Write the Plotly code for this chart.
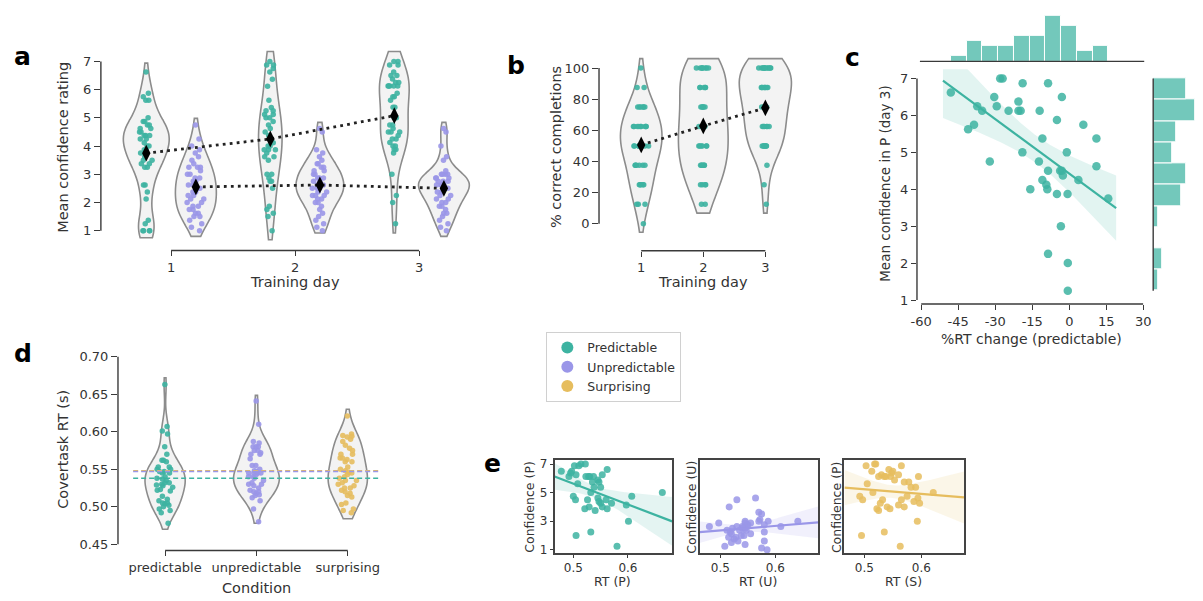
import numpy as np
import plotly.graph_objects as go

W, H = 1203, 601
FONT = 'DejaVu Sans'
TXT = '#333333'
LINE = '#3a3a3a'
TEAL = '#3db3a1'
PURPLE = '#9a96e8'
GOLD = '#e6bd5e'
VIOLIN_FILL = '#f3f3f3'
VIOLIN_LINE = '#8c8c8c'

# ---------------- data ----------------
training_days = [1, 2, 3]
conditions = ['predictable', 'unpredictable', 'surprising']
legend_labels = ['Predictable', 'Unpredictable', 'Surprising']

# panel a : mean confidence rating per participant
conf_day1_P = [6.62, 5.87, 5.75, 5.62, 5.62, 4.87, 4.75, 4.62, 4.5, 4.37, 4.25, 4.12, 4.0, 3.87,
               3.87, 3.75, 3.62, 3.5, 3.37, 3.37, 4.37, 3.25, 4.37, 4.25, 4.5, 4.62, 5.0, 2.62,
               2.62, 2.37, 2.12, 1.37, 1.25, 1.0, 1.0, 1.0, 1.0, 4.87, 4.75, 4.0, 3.5, 3.25]
conf_day1_U = [4.75, 4.25, 4.0, 3.87, 3.75, 3.5, 3.37, 3.25, 3.25, 3.12, 3.0, 3.0, 2.87, 2.75,
               2.75, 2.62, 2.62, 2.5, 2.5, 2.37, 2.37, 2.25, 2.25, 2.12, 2.0, 2.0, 1.87, 1.87,
               1.75, 1.62, 1.62, 1.5, 1.5, 1.37, 1.25, 1.12, 1.0, 3.25, 2.87, 3.62, 2.12, 1.75]
conf_day2_P = [7.0, 6.87, 6.87, 6.75, 6.62, 6.37, 6.12, 5.62, 5.37, 5.25, 5.25, 5.12, 5.0, 5.0,
               4.87, 4.75, 4.62, 4.5, 4.37, 4.25, 4.0, 4.0, 3.87, 3.75, 3.62, 3.62, 3.5, 3.0,
               3.0, 2.87, 2.75, 2.75, 2.5, 3.87, 1.87, 1.75, 1.62, 1.5, 1.0, 3.87, 4.12, 5.12]
conf_day2_U = [4.62, 4.5, 3.87, 3.75, 3.62, 3.5, 3.37, 3.37, 3.25, 3.25, 3.12, 3.0, 3.0, 2.87,
               2.87, 2.75, 2.75, 2.62, 2.62, 2.62, 2.5, 2.5, 2.37, 2.37, 2.25, 2.25, 2.12, 2.12,
               2.0, 2.0, 1.75, 1.62, 1.5, 1.37, 1.25, 1.0, 2.87, 2.5, 3.12, 2.25, 1.12, 1.87]
conf_day3_P = [6.625, 7.0, 7.0, 6.5, 6.25, 6.25, 6.125, 5.625, 5.75, 4.75, 6.375, 6.125, 6.125, 6.125,
               6.875, 5.0, 6.125, 5.375, 6.875, 5.875, 6.5, 4.75, 4.25, 4.125, 4.0, 4.5, 4.0, 3.875,
               4.5, 4.5, 4.375, 5.0, 3.875, 5.75, 4.25, 5.375, 4.625, 3.75, 3.0, 2.25, 2.0, 1.25]
conf_day3_U = [4.62, 4.5, 4.0, 3.62, 3.5, 3.12, 3.0, 3.0, 3.0, 2.87, 2.87, 2.75, 2.75, 2.75,
               2.62, 2.62, 2.5, 2.5, 2.5, 2.37, 2.37, 2.25, 2.25, 2.12, 2.12, 2.0, 2.0, 1.87,
               1.75, 1.62, 1.62, 1.5, 1.37, 1.25, 1.12, 1.0, 2.62, 2.62, 2.87, 2.37, 3.0, 1.87]

# panel b : % correct completions
completion_day1 = [100, 87.5, 87.5, 75, 75, 75, 75, 75, 75, 62.5, 62.5, 62.5, 62.5, 62.5, 62.5,
                   62.5, 62.5, 62.5, 50, 50, 50, 50, 50, 50, 50, 50, 50, 37.5, 37.5, 37.5, 37.5,
                   37.5, 37.5, 25, 25, 25, 25, 25, 12.5, 12.5, 12.5, 0]
completion_day2 = [100, 100, 100, 100, 100, 100, 100, 100, 87.5, 87.5, 87.5, 87.5, 87.5, 75, 75,
                   75, 75, 75, 62.5, 62.5, 62.5, 62.5, 62.5, 62.5, 50, 50, 50, 50, 50, 50, 37.5,
                   37.5, 37.5, 37.5, 37.5, 37.5, 25, 25, 25, 25, 12.5, 12.5]
completion_day3 = [100, 100, 100, 100, 100, 100, 100, 100, 100, 100, 100, 87.5, 87.5, 87.5, 87.5,
                   87.5, 87.5, 87.5, 87.5, 75, 75, 75, 75, 75, 75, 75, 62.5, 62.5, 62.5, 62.5,
                   62.5, 62.5, 50, 50, 50, 50, 50, 50, 50, 37.5, 25, 12.5]

# panel c : %RT change (predictable), paired with conf_day3_P
rt_change_P = [-48, -28, -27, -30.4, -29.4, -37.3, -35.3, -41, -38.6, -32.2, -20.6, -24.6, -20.6,
               -19.7, -18.9, -19, -12, -10.9, -8.6, -5, -3, -12.3, -10.9, -9.3, -8.9, -8.6, -15.8,
               -5, -3.7, -3, -2.6, -1, -0.7, 5.7, 3.7, 11, 11, 15.8, -3.4, -8.6, -0.6, -0.6]

# panel d / e : covertask RT (s)
rt_P = [0.562, 0.514, 0.522, 0.478, 0.505, 0.553, 0.492, 0.508, 0.547, 0.500,
        0.495, 0.523, 0.530, 0.537, 0.502, 0.532, 0.528, 0.550, 0.510, 0.545,
        0.497, 0.607, 0.550, 0.597, 0.529, 0.560, 0.553, 0.562, 0.504, 0.526,
        0.547, 0.663, 0.521, 0.535, 0.570, 0.538, 0.545, 0.540, 0.601, 0.532,
        0.505, 0.580]
rt_U = [0.564, 0.530, 0.516, 0.570, 0.575, 0.572, 0.587, 0.570, 0.641, 0.545,
        0.555, 0.548, 0.550, 0.580, 0.480, 0.540, 0.522, 0.545, 0.540, 0.535,
        0.547, 0.518, 0.580, 0.520, 0.555, 0.543, 0.538, 0.528, 0.525, 0.580,
        0.532, 0.520, 0.545, 0.508, 0.575, 0.585, 0.610, 0.530, 0.497, 0.512,
        0.545, 0.515]
rt_S = [0.543, 0.518, 0.520, 0.513, 0.530, 0.560, 0.535, 0.505, 0.578, 0.492,
        0.548, 0.538, 0.546, 0.595, 0.565, 0.515, 0.525, 0.590, 0.503, 0.553,
        0.550, 0.575, 0.597, 0.560, 0.570, 0.532, 0.540, 0.545, 0.497, 0.565,
        0.587, 0.621, 0.522, 0.570, 0.528, 0.582, 0.594, 0.525, 0.593, 0.535,
        0.495, 0.563]

# tick values
a_yticks = [1, 2, 3, 4, 5, 6, 7]
b_yticks = [0, 20, 40, 60, 80, 100]
c_xticks = [-60, -45, -30, -15, 0, 15, 30]
c_yticks = [1, 2, 3, 4, 5, 6, 7]
d_yticks = [0.45, 0.50, 0.55, 0.60, 0.65, 0.70]
e_xticks = [0.5, 0.6]
e_yticks = [1, 3, 5, 7]

# ---------------- helpers ----------------
def xdom(p0, p1):
    return [p0 / W, min(p1 / W, 1.0)]

def ydom(top, bottom):
    return [1 - bottom / H, 1 - top / H]

def rgba(hexc, a):
    h = hexc.lstrip('#')
    return 'rgba(%d,%d,%d,%.3f)' % (int(h[0:2], 16), int(h[2:4], 16), int(h[4:6], 16), a)

fig = go.Figure()

def add_violin(values, pos, color, width, span, jitter, xa, ya, msize=5.5):
    fig.add_trace(go.Violin(
        x0=pos, y=values, xaxis=xa, yaxis=ya, width=width,
        spanmode='manual', span=list(span), scalemode='width',
        points='all', pointpos=0, jitter=jitter,
        fillcolor=VIOLIN_FILL, line=dict(color=VIOLIN_LINE, width=1.6),
        marker=dict(color=color, size=msize, opacity=0.9, line=dict(width=0)),
        box_visible=False, meanline_visible=False, showlegend=False, hoverinfo='skip'))

def regression(x, y, xlo, xhi, n=120):
    x = np.asarray(x, float); y = np.asarray(y, float)
    b, a = np.polyfit(x, y, 1)
    xs = np.linspace(xlo, xhi, n)
    yh = a + b * xs
    resid = y - (a + b * x)
    s = np.sqrt(np.sum(resid ** 2) / (len(x) - 2))
    sxx = np.sum((x - x.mean()) ** 2)
    se = s * np.sqrt(1.0 / len(x) + (xs - x.mean()) ** 2 / sxx)
    t = 2.021
    return xs, yh, yh - t * se, yh + t * se

def add_regplot(x, y, color, xa, ya, xlo, xhi, msize, band_alpha=0.15):
    xs, yh, lo, hi = regression(x, y, xlo, xhi)
    fig.add_trace(go.Scatter(x=np.concatenate([xs, xs[::-1]]), y=np.concatenate([hi, lo[::-1]]),
                             fill='toself', fillcolor=rgba(color, band_alpha), line=dict(width=0),
                             mode='lines', xaxis=xa, yaxis=ya, showlegend=False, hoverinfo='skip'))
    fig.add_trace(go.Scatter(x=x, y=y, mode='markers', xaxis=xa, yaxis=ya,
                             marker=dict(color=color, size=msize, opacity=0.85, line=dict(width=0)),
                             showlegend=False, hoverinfo='skip'))
    fig.add_trace(go.Scatter(x=xs, y=yh, mode='lines', line=dict(color=color, width=2.2),
                             xaxis=xa, yaxis=ya, showlegend=False, hoverinfo='skip'))

# ---------------- panel a ----------------
day_offset = 0.2
a_sets = [(conf_day1_P, conf_day1_U), (conf_day2_P, conf_day2_U), (conf_day3_P, conf_day3_U)]
a_widths = [0.37, 0.33, 0.19, 0.385, 0.24, 0.41]
a_spans = [(0.75, 6.94), (0.8, 4.98), (0.68, 7.35), (0.92, 4.84), (0.92, 7.35), (0.8, 4.84)]
a_jitter = [0.35, 0.44, 0.6, 0.37, 0.5, 0.35]
k = 0
for d, (pv, uv) in zip(training_days, a_sets):
    add_violin(pv, d - day_offset, TEAL, a_widths[k], a_spans[k], a_jitter[k], 'x', 'y'); k += 1
    add_violin(uv, d + day_offset, PURPLE, a_widths[k], a_spans[k], a_jitter[k], 'x', 'y'); k += 1

DOT = '2.8px,4.2px'
for sign, sets in [(-1, [s[0] for s in a_sets]), (1, [s[1] for s in a_sets])]:
    fig.add_trace(go.Scatter(
        x=[d + sign * day_offset for d in training_days], y=[np.mean(v) for v in sets],
        mode='lines+markers', line=dict(color='#222222', width=2.8, dash=DOT),
        marker=dict(symbol='diamond-tall', size=12, color='black'),
        xaxis='x', yaxis='y', showlegend=False, hoverinfo='skip'))

# ---------------- panel b ----------------
b_sets = [completion_day1, completion_day2, completion_day3]
b_widths = [0.67, 0.8, 0.84]
b_spans = [(-5.5, 106), (6.8, 106), (6.8, 106)]
b_jitter = [0.4, 0.33, 0.3]
for i, d in enumerate(training_days):
    add_violin(b_sets[i], d, TEAL, b_widths[i], b_spans[i], b_jitter[i], 'x2', 'y2')
fig.add_trace(go.Scatter(
    x=training_days, y=[np.mean(v) for v in b_sets],
    mode='lines+markers', line=dict(color='#222222', width=2.8, dash=DOT),
    marker=dict(symbol='diamond-tall', size=12, color='black'),
    xaxis='x2', yaxis='y2', showlegend=False, hoverinfo='skip'))

# ---------------- panel c ----------------
cx = np.asarray(rt_change_P); cy = np.asarray(conf_day3_P)
cpad = 0.05 * (cx.max() - cx.min())
add_regplot(rt_change_P, conf_day3_P, TEAL, 'x3', 'y3', cx.min() - cpad, cx.max() + cpad, 8.5)

top_size = (cx.max() - cx.min()) / 10 * 1.0001
fig.add_trace(go.Histogram(x=rt_change_P, xaxis='x4', yaxis='y4',
                           xbins=dict(start=cx.min(), end=cx.max(), size=top_size),
                           marker=dict(color=rgba(TEAL, 0.72), line=dict(color='white', width=1)),
                           showlegend=False, hoverinfo='skip'))
right_size = (cy.max() - cy.min()) / 10 * 1.0001
fig.add_trace(go.Histogram(y=conf_day3_P, orientation='h', xaxis='x5', yaxis='y5',
                           ybins=dict(start=cy.min(), end=cy.max(), size=right_size),
                           marker=dict(color=rgba(TEAL, 0.72), line=dict(color='white', width=1)),
                           showlegend=False, hoverinfo='skip'))

# ---------------- panel d ----------------
d_sets = [rt_P, rt_U, rt_S]
d_colors = [TEAL, PURPLE, GOLD]
d_widths = [0.44, 0.5, 0.43]
d_spans = [(0.470, 0.672), (0.478, 0.6485), (0.484, 0.630)]
d_jitter = [0.5, 0.45, 0.5]
for i in range(3):
    add_violin(d_sets[i], i, d_colors[i], d_widths[i], d_spans[i], d_jitter[i], 'x6', 'y6')
mean_line_x = [-0.35, 2.35]
for i in [2, 0, 1]:
    m = float(np.mean(d_sets[i]))
    fig.add_trace(go.Scatter(x=mean_line_x, y=[m, m], mode='lines',
                             line=dict(color=d_colors[i], width=1.5, dash='5px,3px'),
                             xaxis='x6', yaxis='y6', showlegend=False, hoverinfo='skip'))

# ---------------- panel e ----------------
e_ranges = [[0.4656, 0.681], [0.462, 0.678], [0.465, 0.675]]
e_pairs = [(rt_P, conf_day3_P, TEAL), (rt_U, conf_day3_U, PURPLE), (rt_S, conf_day3_P, GOLD)]
for j, (xv, yv, col) in enumerate(e_pairs):
    xa = 'x%d' % (7 + j); ya = 'y%d' % (7 + j)
    add_regplot(xv, yv, col, xa, ya, e_ranges[j][0], e_ranges[j][1], 7, band_alpha=0.14)

# legend entries
for lab, col in zip(legend_labels, d_colors):
    fig.add_trace(go.Scatter(x=[None], y=[None], mode='markers', name=lab,
                             marker=dict(color=col, size=9), xaxis='x', yaxis='y'))

# ---------------- axes ----------------
def base_axis(**kw):
    d = dict(showgrid=False, zeroline=False, showline=False, ticks='outside', ticklen=6,
             tickwidth=1.3, tickcolor=LINE, type='linear', fixedrange=True,
             tickfont=dict(family=FONT, size=13, color=TXT))
    d.update(kw)
    return d

e_dom_y = ydom(462.3, 556.7)
e_frame = dict(showline=True, mirror=True, linecolor='#444444', linewidth=1.5)
efont = dict(family=FONT, size=12, color=TXT)

layout_axes = dict(
    xaxis=base_axis(domain=xdom(96, 490), range=[0.434, 3.574], anchor='y', tickvals=training_days,
                    ticklen=5),
    yaxis=base_axis(domain=ydom(45, 251), range=[0.298, 7.526], anchor='x', tickvals=a_yticks),
    xaxis2=base_axis(domain=xdom(600, 800), range=[0.32, 3.505], anchor='y2', tickvals=training_days,
                     ticklen=5),
    yaxis2=base_axis(domain=ydom(50, 251.3), range=[-17.36, 110.6], anchor='x2', tickvals=b_yticks),
    xaxis3=base_axis(domain=xdom(921.7, 1150.7), range=[-61.72, 30.0], anchor='y3',
                     tickvals=c_xticks, ticktext=[str(v) for v in c_xticks], ticklen=5),
    yaxis3=base_axis(domain=ydom(68, 305), range=[0.893, 7.25], anchor='x3', tickvals=c_yticks,
                     ticklen=5),
    xaxis4=base_axis(domain=xdom(921.7, 1150.7), range=[-61.72, 30.0], anchor='y4',
                     ticks='', showticklabels=False),
    yaxis4=base_axis(domain=ydom(14, 60), range=[0, 9], anchor='x4', visible=False),
    xaxis5=base_axis(domain=xdom(1160.7, 1203), range=[0, 8.9], anchor='y5', visible=False),
    yaxis5=base_axis(domain=ydom(68, 305), range=[0.893, 7.25], anchor='x5',
                     ticks='', showticklabels=False),
    xaxis6=base_axis(domain=xdom(113.3, 392), range=[-0.516, 2.5], anchor='y6',
                     tickvals=[0, 1, 2], ticktext=conditions, ticklen=5),
    yaxis6=base_axis(domain=ydom(350, 554), range=[0.4417, 0.711], anchor='x6',
                     tickvals=d_yticks, tickformat='.2f'),
)
e_xdoms = [xdom(555, 674), xdom(701.7, 821.7), xdom(848.3, 969.3)]
for j in range(3):
    n = 7 + j
    layout_axes['xaxis%d' % n] = base_axis(domain=e_xdoms[j], range=e_ranges[j], anchor='y%d' % n,
                                           tickvals=e_xticks, ticklen=3, tickfont=efont, **e_frame)
    yk = dict(domain=e_dom_y, range=[0.764, 7.305], anchor='x%d' % n, **e_frame)
    if j == 0:
        yk.update(tickvals=e_yticks, ticklen=3, tickfont=efont)
    else:
        yk.update(ticks='', showticklabels=False)
    layout_axes['yaxis%d' % n] = base_axis(**yk)

# ---------------- trimmed spines ----------------
def seg(xref, x0, x1, yref, y0, y1):
    return dict(type='line', xref=xref, yref=yref, x0=x0, x1=x1, y0=y0, y1=y1,
                line=dict(color=LINE, width=1.4), layer='above')

shapes = [
    seg('x domain', 0, 0, 'y', min(a_yticks), max(a_yticks)),
    seg('x', min(training_days), max(training_days), 'y domain', 0, 0),
    seg('x2 domain', 0, 0, 'y2', min(b_yticks), max(b_yticks)),
    seg('x2', min(training_days), max(training_days), 'y2 domain', 0, 0),
    seg('x3 domain', 0, 0, 'y3', min(c_yticks), max(c_yticks)),
    seg('x3', min(c_xticks), max(c_xticks), 'y3 domain', 0, 0),
    seg('x4 domain', 0.013, 1.004, 'y4 domain', 0, 0),
    seg('x5 domain', 0, 0, 'y5', float(cy.min()), float(cy.max())),
    seg('x6 domain', 0, 0, 'y6', min(d_yticks), max(d_yticks)),
    seg('x6', 0, 2, 'y6 domain', 0, 0),
]

# ---------------- text ----------------
def ann(text, x, y, size=14, angle=0, bold=False, color=TXT):
    return dict(text=('<b>%s</b>' % text) if bold else text, x=x / W, y=1 - y / H,
                xref='paper', yref='paper', xanchor='center', yanchor='middle',
                showarrow=False, textangle=angle,
                font=dict(family=FONT, size=size, color=color))

annotations = [
    ann('a', 17, 55, 25, bold=True, color='black'),
    ann('b', 516, 64, 25, bold=True, color='black'),
    ann('c', 856, 56, 25, bold=True, color='black'),
    ann('d', 17, 355, 25, bold=True, color='black'),
    ann('e', 492, 466, 25, bold=True, color='black'),
    ann('Mean confidence rating', 57, 147, 14.5, angle=-90),
    ann('Training day', 292, 283, 14.5),
    ann('% correct completions', 556, 147, 14.5, angle=-90),
    ann('Training day', 705, 283, 14.5),
    ann('Mean confidence in P (day 3)', 890, 183, 13.5, angle=-90),
    ann('%RT change (predictable)', 1038, 340, 14),
    ann('Covertask RT (s)', 58, 452, 14.5, angle=-90),
    ann('Condition', 253, 592, 14.5),
    ann('Confidence (P)', 530, 510, 12.5, angle=-90),
    ann('Confidence (U)', 694, 510, 12.5, angle=-90),
    ann('Confidence (P)', 841, 510, 12.5, angle=-90),
    ann('RT (P)', 614, 585, 12.5),
    ann('RT (U)', 761, 585, 12.5),
    ann('RT (S)', 908, 585, 12.5),
]

fig.update_layout(
    width=W, height=H, autosize=False,
    margin=dict(l=0, r=0, t=0, b=0),
    paper_bgcolor='white', plot_bgcolor='rgba(0,0,0,0)',
    violinmode='overlay', violingap=0, violingroupgap=0, barmode='overlay',
    hovermode=False,
    font=dict(family=FONT, size=13, color=TXT),
    shapes=shapes, annotations=annotations,
    showlegend=True,
    legend=dict(x=546.7 / W, y=1 - 333.3 / H, xanchor='left', yanchor='top',
                bgcolor='white', bordercolor='#d0d0d0', borderwidth=1,
                font=dict(family=FONT, size=12.5, color=TXT), itemsizing='constant'),
    **layout_axes,
)

fig.write_html('out.html', config={'displayModeBar': False},
               post_script="document.body.style.margin='0px';document.body.style.overflow='hidden';")
